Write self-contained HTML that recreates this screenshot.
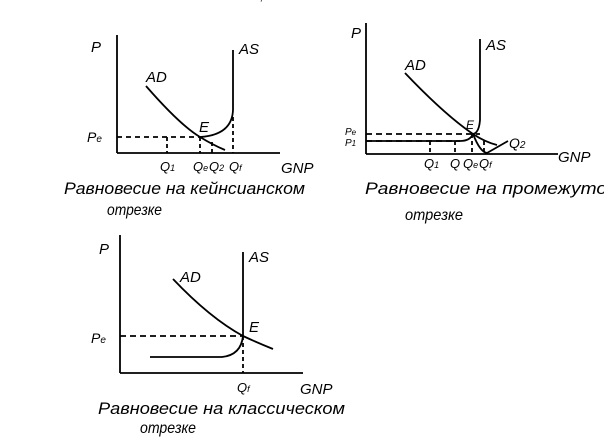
<!DOCTYPE html>
<html><head><meta charset="utf-8"><style>
html,body{margin:0;padding:0;background:#fff;}
svg{display:block;}
text{font-family:"Liberation Sans","DejaVu Sans",sans-serif;fill:#000;font-style:italic;}
</style></head><body>
<svg width="604" height="447" viewBox="0 0 604 447" xmlns="http://www.w3.org/2000/svg">
<g stroke="#000" stroke-width="1.8" fill="none">
<!-- chart 1 -->
<line x1="117" y1="35" x2="117" y2="153"/>
<line x1="117" y1="153" x2="280" y2="153"/>
<path d="M233 50 L233 110 Q232 135 200 137"/>
<path d="M146 86 Q180 125 200 137 Q213 145 225 150"/>
<path d="M117 137 H200" stroke-dasharray="5,4"/>
<path d="M167 137 V153 M200 137 V153 M212 142 V153 M233 117 V153" stroke-dasharray="4,3"/>
<!-- chart 2 -->
<line x1="366" y1="23" x2="366" y2="154"/>
<line x1="366" y1="154" x2="558" y2="154"/>
<path d="M480 39 L480 120 Q479 133 473 134"/>
<path d="M405 73 Q445 115 473 134 Q485 142 497 145"/>
<path d="M366 141 H460 Q470 141 473 134"/>
<path d="M473 134 Q480 152 487 153 L508 141"/>
<path d="M366 134 H480" stroke-dasharray="6,4"/>
<path d="M366 141 H460" stroke-dasharray="6,4"/>
<path d="M430 141 V154 M455 141 V154 M472 134 V154 M484 141 V154" stroke-dasharray="4,3"/>
<!-- chart 3 -->
<line x1="120" y1="235" x2="120" y2="373"/>
<line x1="120" y1="373" x2="303" y2="373"/>
<path d="M243 252 L243 336"/>
<path d="M150 357 H222 Q241 355 243 336"/>
<path d="M173 279 Q210 318 243 336 Q258 343 273 349"/>
<path d="M120 336 H243" stroke-dasharray="6,4"/>
<path d="M243 336 V373" stroke-dasharray="4,3"/>
</g>
<g font-size="15">
<text x="91" y="52">P</text><text x="239" y="54">AS</text><text x="146" y="82">AD</text>
<text x="199" y="132">E</text><text x="87" y="142" font-size="14">P<tspan font-size="10">e</tspan></text>
<text x="160" y="171" font-size="13">Q<tspan font-size="9">1</tspan></text>
<text x="193" y="171" font-size="13">Q<tspan font-size="9">e</tspan></text>
<text x="209" y="171" font-size="13">Q<tspan font-size="9">2</tspan></text>
<text x="229" y="171" font-size="13">Q<tspan font-size="9">f</tspan></text>
<text x="281" y="173">GNP</text>
<text x="64" y="194" font-size="17" textLength="241" lengthAdjust="spacingAndGlyphs">Равновесие на кейнсианском</text>
<text x="107" y="215" font-size="16" textLength="55" lengthAdjust="spacingAndGlyphs">отрезке</text>

<text x="351" y="38">P</text><text x="486" y="50">AS</text><text x="405" y="70">AD</text>
<text x="466" y="129" font-size="12">E</text>
<text x="345" y="135" font-size="10">P<tspan font-size="8">e</tspan></text>
<text x="345" y="146" font-size="10">P<tspan font-size="8">1</tspan></text>
<text x="424" y="168" font-size="13">Q<tspan font-size="9">1</tspan></text>
<text x="450" y="168" font-size="13">Q</text>
<text x="463" y="168" font-size="13">Q<tspan font-size="9">e</tspan></text>
<text x="479" y="168" font-size="13">Q<tspan font-size="9">f</tspan></text>
<text x="509" y="148" font-size="14">Q<tspan font-size="10">2</tspan></text>
<text x="558" y="162">GNP</text>
<text x="365" y="194" font-size="17" textLength="242" lengthAdjust="spacingAndGlyphs">Равновесие на промежуто</text>
<text x="405" y="220" font-size="16" textLength="58" lengthAdjust="spacingAndGlyphs">отрезке</text>

<text x="99" y="254">P</text><text x="249" y="262">AS</text><text x="180" y="282">AD</text>
<text x="249" y="332">E</text>
<text x="91" y="343" font-size="14">P<tspan font-size="10">e</tspan></text>
<text x="237" y="392" font-size="13">Q<tspan font-size="9">f</tspan></text>
<text x="300" y="394">GNP</text>
<text x="98" y="414" font-size="17" textLength="247" lengthAdjust="spacingAndGlyphs">Равновесие на классическом</text>
<text x="140" y="433" font-size="16" textLength="56" lengthAdjust="spacingAndGlyphs">отрезке</text>
<text x="260" y="6" font-size="8">'</text>
</g>
</svg>
</body></html>
